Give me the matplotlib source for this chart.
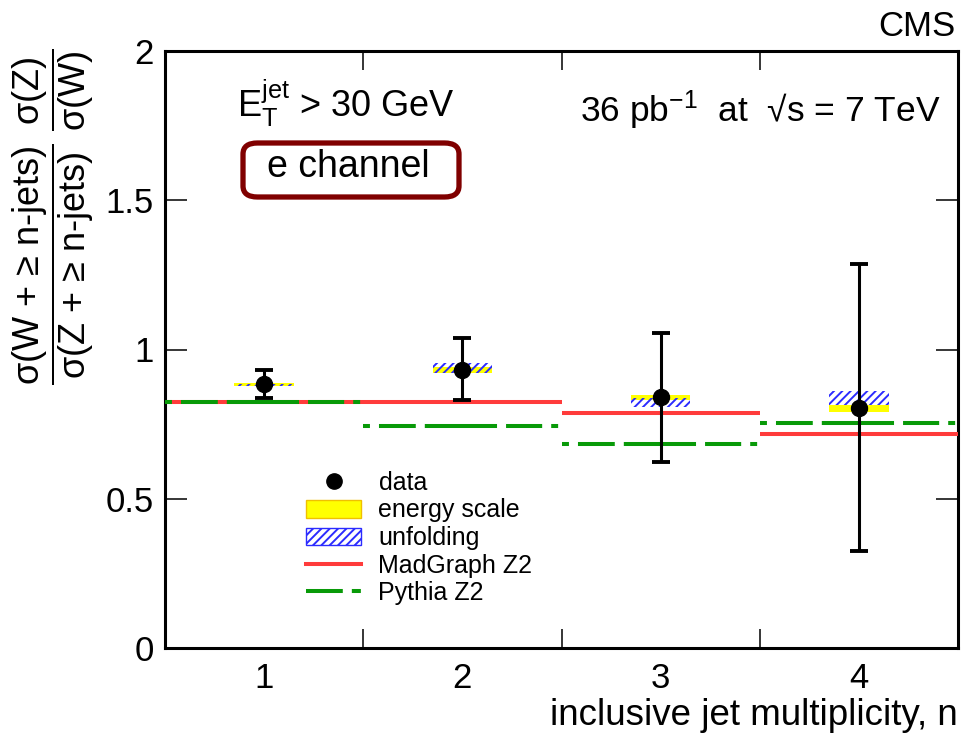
import matplotlib
matplotlib.use("Agg")
import matplotlib.pyplot as plt
from matplotlib.lines import Line2D
from matplotlib.patches import Patch, FancyBboxPatch
import numpy as np

plt.rcParams['font.family'] = ['Liberation Sans', 'DejaVu Sans']
plt.rcParams['mathtext.fontset'] = 'custom'
plt.rcParams['mathtext.rm'] = 'Liberation Sans'
plt.rcParams['mathtext.it'] = 'Liberation Sans'
plt.rcParams['mathtext.bf'] = 'Liberation Sans:bold'
plt.rcParams['lines.scale_dashes'] = False
plt.rcParams['hatch.linewidth'] = 1.4
plt.rcParams['hatch.color'] = '#2b2bff'

# ---- data ----
n_jets = [1, 2, 3, 4]
bin_edges = [0.5, 1.5, 2.5, 3.5, 4.5]
ratio = [0.884, 0.931, 0.842, 0.803]
stat_hi = [0.930, 1.038, 1.055, 1.286]
stat_lo = [0.837, 0.830, 0.623, 0.326]
escale_lo = [0.877, 0.920, 0.830, 0.792]
escale_hi = [0.887, 0.940, 0.848, 0.814]
unfold_lo = [0.879, 0.921, 0.807, 0.814]
unfold_hi = [0.886, 0.955, 0.838, 0.861]
madgraph = [0.823, 0.823, 0.786, 0.716]
pythia = [0.823, 0.745, 0.683, 0.754]
tick_labels = ['1', '2', '3', '4']

RED = '#ff3b3b'
GREEN = '#089a08'
BLUE = '#2b2bff'

fig = plt.figure(figsize=(9.65, 7.38), dpi=100)
ax = fig.add_axes([165/965, 1-648/738, 793/965, 597/738])

x = np.array(n_jets, dtype=float)
r = np.array(ratio)
# bands
ax.bar(x, np.array(escale_hi)-np.array(escale_lo), bottom=escale_lo, width=0.3,
       color='#ffff00', linewidth=0, zorder=2)
ax.bar(x, np.array(unfold_hi)-np.array(unfold_lo), bottom=unfold_lo, width=0.3,
       facecolor='none', edgecolor=BLUE, hatch='////', linewidth=0, zorder=3)

# predictions
ax.hlines(madgraph, bin_edges[:-1], bin_edges[1:], colors=RED, linewidth=2.9, zorder=4)
pyth_dash = (0, (5, 6.5, 26.5, 6.5, 52, 6.5, 26, 6.5, 5, 20))
ax.hlines(pythia, bin_edges[:-1], bin_edges[1:], colors=GREEN, linewidth=2.9,
          linestyles=[pyth_dash], zorder=5)

# data
ax.errorbar(x, r, yerr=[r-np.array(stat_lo), np.array(stat_hi)-r], fmt='o',
            color='black', ms=11.5, elinewidth=2.2, capsize=6.5, capthick=2.8, zorder=6)

ax.set_xlim(0.5, 4.5)
ax.set_ylim(0, 2)
for s in ax.spines.values():
    s.set_linewidth(2.2)

ax.set_yticks([0, 0.5, 1, 1.5, 2])
ax.set_yticklabels(['0', '0.5', '1', '1.5', '2'])
ax.tick_params(axis='y', which='major', direction='in', length=16, width=1.1,
               right=True, labelsize=25, pad=8)
ax.set_xticks([1.5, 2.5, 3.5])
ax.set_xticklabels([])
ax.tick_params(axis='x', which='major', direction='in', length=14, width=1.1, top=True)
ax.set_xticks(n_jets, tick_labels, minor=True)
ax.tick_params(axis='x', which='minor', length=0, labelsize=25, pad=10)

ax.set_xlabel('inclusive jet multiplicity, n', fontsize=26.5, loc='right', labelpad=2)

fig.text(53/965, 1-48/738,
         r'$\dfrac{\text{σ(W + ≥ n-jets)}}{\text{σ(Z + ≥ n-jets)}}\ \dfrac{\text{σ(Z)}}{\text{σ(W)}}$',
         rotation=90, ha='center', va='top', fontsize=26)

fig.text(955/965, 1-27/738, 'CMS', ha='right', va='center', fontsize=25)
fig.text(940/965, 1-110/738, r'36 pb$^{-1}$  at  √s = 7 TeV', ha='right', va='center', fontsize=25.5)
fig.text(237/965, 1-103/738, r'E$_\mathrm{T}^\mathrm{jet}$ > 30 GeV', ha='left', va='center', fontsize=26)

box = FancyBboxPatch((243/965, 1-197/738), 216/965, 54/738,
                     boxstyle='round,pad=0,rounding_size=0.015', transform=fig.transFigure,
                     facecolor='white', edgecolor='#800000', linewidth=3.8)
fig.patches.append(box)
fig.text(348/965, 1-167/738, 'e channel', ha='center', va='center', fontsize=27)

handles = [
    Line2D([], [], marker='o', color='black', linestyle='none', ms=11),
    Patch(facecolor='#ffff00', edgecolor='#f0c000', linewidth=1),
    Patch(facecolor='white', edgecolor=BLUE, hatch='////', linewidth=1),
    Line2D([], [], color=RED, linewidth=2.9),
    Line2D([], [], color=GREEN, linewidth=2.9, linestyle=(0, (26.5, 6.5, 6.5, 40))),
]
labels = ['data', 'energy scale', 'unfolding', 'MadGraph Z2', 'Pythia Z2']
ax.legend(handles, labels, loc='upper left',
          bbox_to_anchor=((306-165)/793, (648-471)/597),
          frameon=False, fontsize=18, handlelength=2.2, handletextpad=0.7,
          labelspacing=0.14, borderpad=0, borderaxespad=0)

fig.savefig('out.png', dpi=100)
